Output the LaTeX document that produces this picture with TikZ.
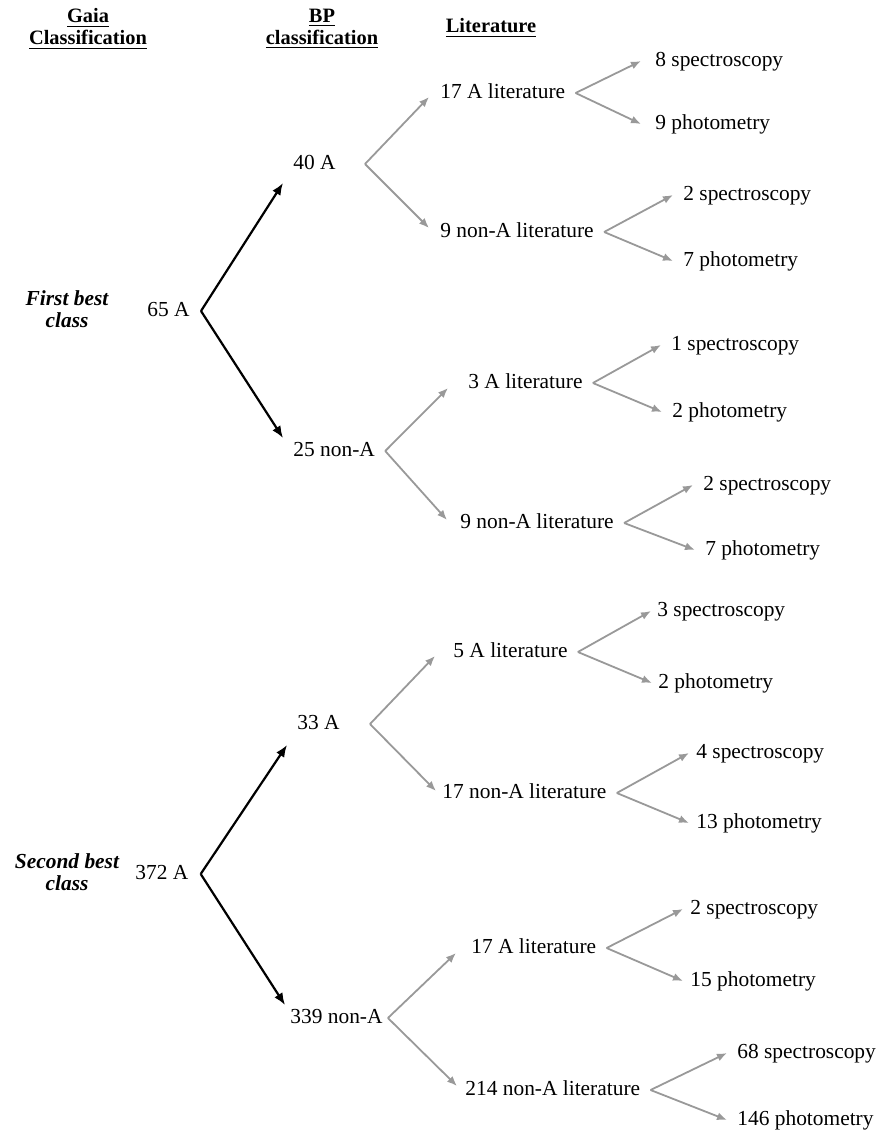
\documentclass[tikz,border=0pt]{standalone}
\usepackage{fontspec}
\setmainfont{Liberation Serif}
\usetikzlibrary{arrows.meta}
\definecolor{branch}{HTML}{999999}

\begin{document}
\begin{tikzpicture}[x=0.5pt,y=-0.5pt,font=\fontsize{10.7}{11}\selectfont,>=Latex,
  lbl/.style={anchor=west,inner xsep=5pt,inner ysep=0pt,text height=1.45ex,text depth=.25ex},
  hdr/.style={font=\fontsize{10.2}{11}\selectfont\bfseries,align=center},
  cls/.style={font=\fontsize{10.7}{11}\selectfont\bfseries\itshape,align=center},
  main/.style={-{Latex[length=6pt,width=4.8pt]},line width=1.1pt},
  sub/.style={-{Latex[length=5pt,width=4pt]},line width=.9pt,branch}]
 \useasboundingbox (0,0) rectangle (884,1136);

 \node[hdr] (hgaia) at (88,29) {\underline{Gaia}\\\underline{Classification}};
 \node[hdr] (hbp) at (322,29) {\underline{BP}\\\underline{classification}};
 \node[hdr] (hlit) at (491,28) {\underline{Literature}};

 \node[cls] (c1) at (67,309) {First best\\class};
 \node[cls] (c2) at (67,872) {Second best\\class};

 % gaia and BP columns
 \node[lbl] (g1) at (137,311) {65 A};
 \node[lbl] (g2) at (125,874) {372 A};
 \node[lbl] (b1) at (283,164) {40 A};
 \node[lbl] (b2) at (283,451) {25 non-A};
 \node[lbl] (b3) at (287,724) {33 A};
 \node[lbl] (b4) at (280,1018) {339 non-A};

 % literature
 \node[lbl] (l1) at (430,93) {17 A literature};
 \node[lbl] (l2) at (430,232) {9 non-A literature};
 \node[lbl] (l3) at (458,383) {3 A literature};
 \node[lbl] (l4) at (450,523) {9 non-A literature};
 \node[lbl] (l5) at (443,652) {5 A literature};
 \node[lbl] (l6) at (432,793) {17 non-A literature};
 \node[lbl] (l7) at (461,948) {17 A literature};
 \node[lbl] (l8) at (455,1090) {214 non-A literature};

 \node[lbl] (s1) at (645,61) {8 spectroscopy};
 \node[lbl] (p1) at (645,124) {9 photometry};
 \node[lbl] (s2) at (673,195) {2 spectroscopy};
 \node[lbl] (p2) at (673,261) {7 photometry};
 \node[lbl] (s3) at (661,345) {1 spectroscopy};
 \node[lbl] (p3) at (662,412) {2 photometry};
 \node[lbl] (s4) at (693,485) {2 spectroscopy};
 \node[lbl] (p4) at (695,550) {7 photometry};
 \node[lbl] (s5) at (647,611) {3 spectroscopy};
 \node[lbl] (p5) at (648,683) {2 photometry};
 \node[lbl] (s6) at (686,753) {4 spectroscopy};
 \node[lbl] (p6) at (686,823) {13 photometry};
 \node[lbl] (s7) at (680,909) {2 spectroscopy};
 \node[lbl] (p7) at (680,981) {15 photometry};
 \node[lbl] (s8) at (727,1053) {68 spectroscopy};
 \node[lbl] (p8) at (727,1120) {146 photometry};

 \draw[main] ([xshift=.5pt]g1.east) -- ([yshift=-9.5pt]b1.west);
 \draw[main] ([xshift=.5pt]g1.east) -- ([yshift=6.5pt]b2.west);
 \draw[main] ([xshift=1pt]g2.east) -- ([yshift=-10.5pt]b3.west);
 \draw[main] ([xshift=1pt]g2.east) -- ([shift={(2.5pt,6.5pt)}]b4.west);

 \draw[sub] ([xshift=9.5pt]b1.east) -- ([shift={(-.5pt,-2pt)}]l1.west);
 \draw[sub] ([xshift=9.5pt]b1.east) -- ([shift={(-.5pt,2pt)}]l2.west);
 \draw[sub] (b2.east) -- ([shift={(-5pt,-2.5pt)}]l3.west);
 \draw[sub] (b2.east) -- ([shift={(-1.5pt,1.5pt)}]l4.west);
 \draw[sub] ([xshift=10pt]b3.east) -- ([shift={(-4pt,-2pt)}]l5.west);
 \draw[sub] ([xshift=10pt]b3.east) -- ([shift={(2pt,1pt)}]l6.west);
 \draw[sub] ([xshift=-2.5pt]b4.east) -- ([shift={(-2.5pt,-2.5pt)}]l7.west);
 \draw[sub] ([xshift=-2.5pt]b4.east) -- ([shift={(1pt,2pt)}]l8.west);

 \draw[sub] (l1.east) -- ([xshift=-2pt]s1.west);
 \draw[sub] (l1.east) -- ([xshift=-2pt]p1.west);
 \draw[sub] (l2.east) -- (s2.west);
 \draw[sub] (l2.east) -- (p2.west);
 \draw[sub] (l3.east) -- (s3.west);
 \draw[sub] (l3.east) -- (p3.west);
 \draw[sub] (l4.east) -- (s4.west);
 \draw[sub] (l4.east) -- (p4.west);
 \draw[sub] (l5.east) -- ([xshift=2pt]s5.west);
 \draw[sub] (l5.east) -- ([xshift=2pt]p5.west);
 \draw[sub] (l6.east) -- ([xshift=1.5pt]s6.west);
 \draw[sub] (l6.east) -- ([xshift=1.5pt]p6.west);
 \draw[sub] (l7.east) -- ([xshift=1.5pt]s7.west);
 \draw[sub] (l7.east) -- ([xshift=1.5pt]p7.west);
 \draw[sub] (l8.east) -- (s8.west);
 \draw[sub] (l8.east) -- (p8.west);
\end{tikzpicture}
\end{document}
